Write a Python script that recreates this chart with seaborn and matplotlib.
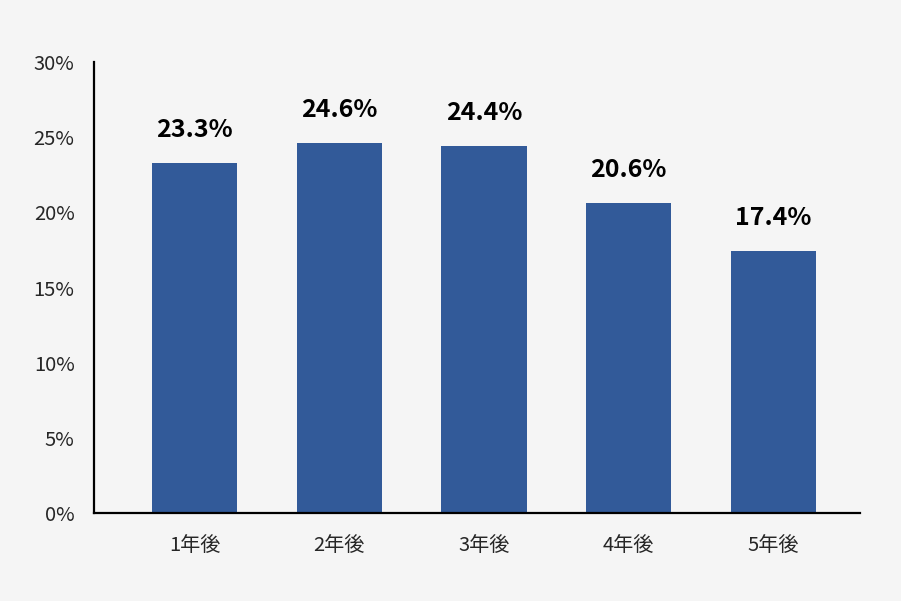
import matplotlib
matplotlib.use("Agg")
import matplotlib.pyplot as plt
import seaborn as sns

# data
years = ["1年後", "2年後", "3年後", "4年後", "5年後"]
rates = [23.3, 24.6, 24.4, 20.6, 17.4]
y_ticks = [0, 5, 10, 15, 20, 25, 30]

sns.set_style("white")
plt.rcParams['font.family'] = ['Noto Sans CJK JP', 'DejaVu Sans']

bg = "#f5f5f5"
fig = plt.figure(figsize=(9.01, 6.01), dpi=100, facecolor=bg)
ax = fig.add_axes([0.1043, 0.1464, 0.8502, 0.7504])
ax.set_facecolor(bg)

sns.barplot(x=years, y=rates, color="#325a99", width=0.59, saturation=1,
            linewidth=0, ax=ax)

for i, v in enumerate(rates):
    ax.text(i, v + 1.4, f"{v:.1f}%", ha="center", va="bottom",
            fontsize=18, fontweight="bold", color="black")

ax.set_ylim(0, 30)
ax.set_xlim(-0.695, 4.6)
ax.set_yticks(y_ticks)
ax.set_yticklabels([f"{t}%" for t in y_ticks])
ax.tick_params(axis="y", length=0, pad=14, labelsize=14.5)
ax.tick_params(axis="x", length=0, pad=16, labelsize=14.5)

sns.despine(ax=ax)
for s in ["left", "bottom"]:
    ax.spines[s].set_color("black")
    ax.spines[s].set_linewidth(1.6)

fig.savefig("out.png", dpi=100, facecolor=bg)
